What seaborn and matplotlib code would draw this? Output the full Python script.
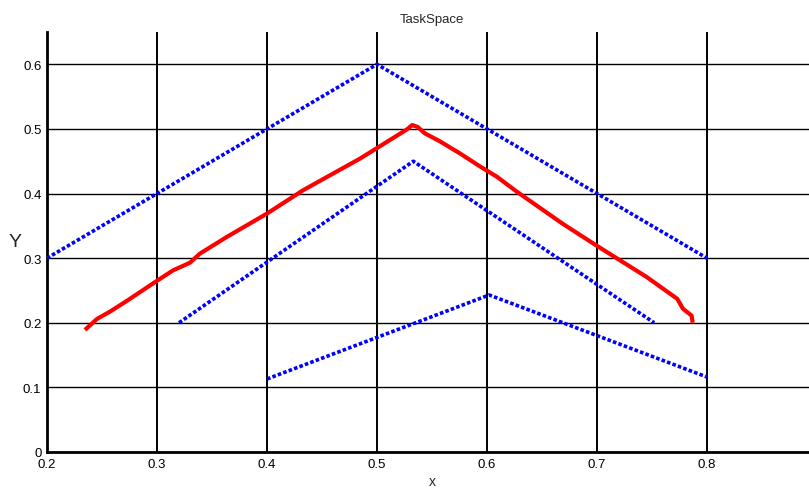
import matplotlib
matplotlib.use("Agg")
import matplotlib.pyplot as plt
import seaborn as sns
import pandas as pd

# Boundary paths of the task space (blue dotted)
outer_x = [0.2, 0.5, 0.8]
outer_y = [0.3, 0.6, 0.3]
middle_x = [0.32, 0.533, 0.752]
middle_y = [0.2, 0.45, 0.2]
inner_x = [0.4, 0.602, 0.8]
inner_y = [0.113, 0.243, 0.116]

# Executed end-effector trajectory (red)
traj_x = [0.2345, 0.2455, 0.257, 0.2727, 0.3, 0.3145, 0.33, 0.339, 0.3636,
          0.4, 0.4327, 0.4845, 0.527, 0.532, 0.537, 0.5436, 0.557, 0.5755,
          0.5936, 0.609, 0.627, 0.669, 0.7, 0.745, 0.773, 0.778, 0.786, 0.787]
traj_y = [0.189, 0.206, 0.217, 0.234, 0.265, 0.281, 0.293, 0.307, 0.333,
          0.369, 0.405, 0.454, 0.499, 0.506, 0.503, 0.493, 0.481, 0.462,
          0.442, 0.426, 0.403, 0.353, 0.319, 0.271, 0.237, 0.222, 0.211, 0.2]

x_ticks = [0.2, 0.3, 0.4, 0.5, 0.6, 0.7, 0.8]
x_labels = ["0.2", "0.3", "0.4", "0.5", "0.6", "0.7", "0.8"]
y_ticks = [0, 0.1, 0.2, 0.3, 0.4, 0.5, 0.6]
y_labels = ["0", "0.1", "0.2", "0.3", "0.4", "0.5", "0.6"]

sns.set_theme(style="white")
plt.rcParams["font.family"] = ["Liberation Sans", "DejaVu Sans"]

fig = plt.figure(figsize=(8.09, 4.89), dpi=100)
ax = fig.add_axes([47 / 809, 36 / 489, 770 / 809, 420 / 489])

def path_frame(xs, ys, name):
    return pd.DataFrame({"x": xs, "y": ys, "path": name, "order": range(len(xs))})

bounds = pd.concat([
    path_frame(outer_x, outer_y, "outer"),
    path_frame(middle_x, middle_y, "middle"),
    path_frame(inner_x, inner_y, "inner"),
])
traj = path_frame(traj_x, traj_y, "trajectory")

for name, grp in bounds.groupby("path", sort=False):
    sns.lineplot(data=grp, x="x", y="y", sort=False, estimator=None,
                 color="#0000ff", linewidth=2.6, linestyle=(0, (1, 0.6)),
                 ax=ax, zorder=3)
sns.lineplot(data=traj, x="x", y="y", sort=False, estimator=None,
             color="#ff0000", linewidth=3.0, ax=ax, zorder=4,
             solid_capstyle="butt")

ax.set_xlim(0.2, 0.9)
ax.set_ylim(0, 0.65)
ax.set_xticks(x_ticks)
ax.set_xticklabels(x_labels)
ax.set_yticks(y_ticks)
ax.set_yticklabels(y_labels)
ax.tick_params(direction="in", length=4, width=1, colors="black",
               labelsize=9.5)
ax.tick_params(axis="x", pad=4)
ax.tick_params(axis="y", pad=4)

ax.xaxis.grid(True, color="black", linewidth=1.4, linestyle="-")
ax.yaxis.grid(True, color="black", linewidth=1.0, linestyle="-")
ax.set_axisbelow(True)

for side in ["top", "right"]:
    ax.spines[side].set_visible(False)
for side in ["left", "bottom"]:
    ax.spines[side].set_color("black")
    ax.spines[side].set_linewidth(2.0)

ax.set_title("TaskSpace", fontsize=9.5, pad=7)
ax.set_xlabel("x", fontsize=10, labelpad=3)
ax.set_ylabel("Y", fontsize=14, rotation=0, va="center")
ax.yaxis.set_label_coords(-0.042, 0.50)

fig.savefig("out.png", dpi=100)
